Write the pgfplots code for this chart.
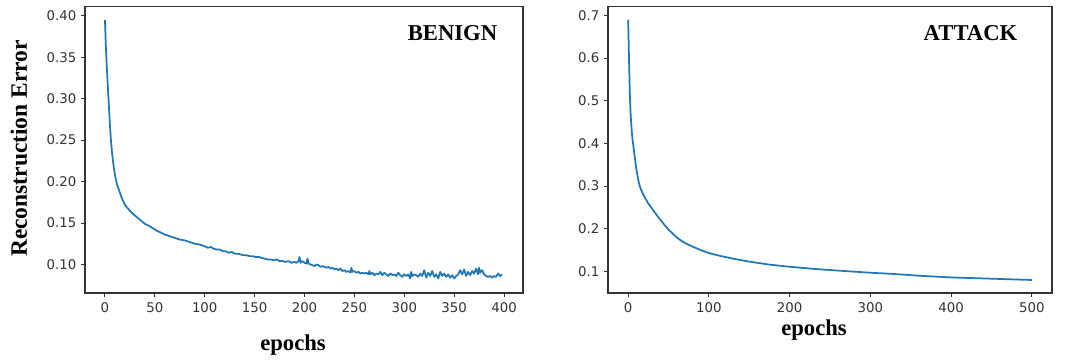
\documentclass[border=0pt]{standalone}
\usepackage{fontspec}
\setmainfont{DejaVu Sans}
\newfontfamily\timesb{Liberation Serif}
\usepackage{pgfplots}
\pgfplotsset{compat=1.18}
\definecolor{mplblue}{RGB}{31,119,180}
\definecolor{axgray}{RGB}{51,51,51}
\pgfplotsset{
  mystyle/.style={
    scale only axis,
    anchor=south west,
    height=214.7pt,
    axis line style={axgray, line width=0.8pt},
    tick align=outside,
    xtick pos=bottom, ytick pos=left,
    major tick length=3pt,
    tick style={axgray, line width=0.7pt},
    ticklabel style={font=\fontsize{10}{12}\selectfont, text=axgray},
    xticklabel style={yshift=-1pt},
    /pgf/number format/assume math mode=true,
  }
}
\begin{document}
\begin{tikzpicture}
\path[use as bounding box] (0,0) rectangle (801pt,270pt);
\begin{axis}[mystyle,
  at={(63.75pt,50.25pt)}, width=328.5pt,
  xmin=-20, xmax=419, ymin=0.0655, ymax=0.411,
  xtick={0,50,...,400},
  ytick={0.10,0.15,...,0.41},
  yticklabel style={/pgf/number format/.cd, fixed, fixed zerofill, precision=2},
]
\addplot[mplblue, line width=1.3pt, line join=round] coordinates {
(0,0.395) (1,0.36) (2,0.335) (3,0.312) (4,0.290) (5,0.268) (6,0.250) (7,0.236) (8,0.225) (9,0.216) (10,0.208)
(12,0.197) (14,0.190) (16,0.183) (18,0.177) (20,0.172) (24,0.166) (28,0.161) (32,0.157) (36,0.153) (40,0.149)
(45,0.146) (50,0.142) (55,0.139) (60,0.136) (65,0.134) (70,0.132) (75,0.130) (80,0.129) (85,0.127) (90,0.125)
(95,0.124) (100,0.122) (103,0.120) (106,0.121) (109,0.119) (112,0.118) (115,0.118) (118,0.116) (121,0.116)
(124,0.114) (127,0.115) (130,0.113) (133,0.113) (136,0.112) (139,0.111) (142,0.111) (145,0.110) (148,0.110)
(151,0.109) (154,0.109) (157,0.108) (160,0.107) (163,0.106) (166,0.106) (169,0.105) (172,0.106) (175,0.104)
(178,0.104) (181,0.103) (184,0.104) (187,0.102) (190,0.103) (192,0.102) (194,0.104) (195,0.109) (196,0.102)
(198,0.104) (200,0.102) (202,0.101) (203,0.107) (204,0.101) (206,0.100) (208,0.099) (210,0.098) (212,0.100)
(214,0.099) (216,0.097) (218,0.098) (220,0.097) (222,0.096) (224,0.097) (226,0.095) (228,0.096) (230,0.094)
(232,0.095) (234,0.093) (236,0.095) (238,0.092) (240,0.093) (242,0.091) (244,0.092) (246,0.090) (247,0.096)
(248,0.091) (250,0.092) (252,0.090) (254,0.091) (256,0.089) (258,0.090) (260,0.089) (262,0.090) (264,0.088)
(265,0.092) (266,0.088) (268,0.090) (270,0.087) (272,0.089) (274,0.088) (276,0.091) (278,0.087) (280,0.090)
(282,0.088) (284,0.086) (286,0.089) (288,0.087) (290,0.088) (292,0.086) (294,0.090) (296,0.087) (298,0.085)
(300,0.088) (302,0.086) (304,0.088) (306,0.083) (307,0.091) (308,0.086) (310,0.088) (312,0.087) (314,0.085)
(316,0.089) (318,0.086) (320,0.093) (322,0.084) (324,0.090) (326,0.086) (328,0.092) (330,0.085) (332,0.088)
(334,0.083) (336,0.091) (338,0.086) (340,0.089) (342,0.085) (344,0.088) (346,0.084) (348,0.087) (350,0.083)
(352,0.086) (354,0.088) (356,0.093) (358,0.088) (360,0.094) (362,0.086) (364,0.091) (366,0.087) (368,0.092)
(370,0.089) (372,0.095) (374,0.088) (375,0.096) (376,0.090) (378,0.093) (380,0.088) (382,0.086) (384,0.085)
(386,0.086) (388,0.084) (390,0.086) (392,0.085) (394,0.089) (396,0.086) (398,0.088)
};
\end{axis}
\begin{axis}[mystyle,
  at={(456pt,50.25pt)}, width=333pt,
  xmin=-25, xmax=525, ymin=0.0495, ymax=0.7205,
  xtick={0,100,...,500},
  ytick={0.1,0.2,...,0.71},
  yticklabel style={/pgf/number format/.cd, fixed, fixed zerofill, precision=1},
]
\addplot[mplblue, line width=1.3pt, line join=round] coordinates {
(0,0.690) (1,0.60) (2,0.52) (3,0.47) (4,0.44) (5,0.415) (7,0.385) (9,0.355) (11,0.330) (13,0.310) (15,0.296)
(18,0.283) (21,0.272) (25,0.259) (30,0.246) (35,0.233) (40,0.221) (45,0.209) (50,0.198) (55,0.189) (60,0.180)
(65,0.173) (70,0.167) (80,0.158) (90,0.150) (100,0.143) (115,0.136) (130,0.130) (150,0.123) (175,0.116)
(200,0.111) (230,0.106) (260,0.102) (300,0.097) (330,0.094) (360,0.090) (400,0.086) (450,0.083) (500,0.080)
};
\end{axis}
\node[rotate=90, font=\timesb\bfseries\fontsize{17.6}{20}\selectfont] at (14.25pt,158.6pt) {Reconstruction Error};
\node[font=\timesb\bfseries\fontsize{17}{20}\selectfont] at (219.75pt,11.25pt) {epochs};
\node[font=\timesb\bfseries\fontsize{17}{20}\selectfont] at (610.5pt,22.5pt) {epochs};
\node[font=\timesb\bfseries\fontsize{17}{20}\selectfont] at (339.4pt,245.25pt) {BENIGN};
\node[font=\timesb\bfseries\fontsize{17}{20}\selectfont] at (727.9pt,245.25pt) {ATTACK};
\end{tikzpicture}
\end{document}
